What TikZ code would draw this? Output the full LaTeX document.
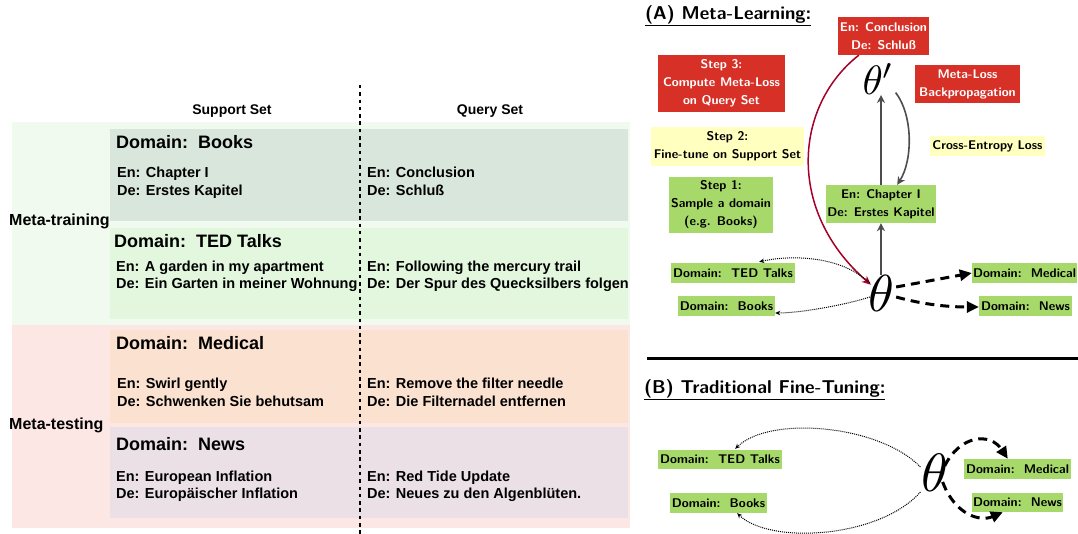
\documentclass[tikz,border=0pt]{standalone}
\usepackage{fontspec}
\usepackage{graphicx}
\usetikzlibrary{arrows.meta,calc}
\newfontfamily\hel{Liberation Sans}

% colour scheme
\definecolor{trainbg}{HTML}{F0FAEF}
\definecolor{testbg}{HTML}{FCE7E5}
\definecolor{booksbg}{HTML}{D9E6DB}
\definecolor{tedbg}{HTML}{E2F7DE}
\definecolor{medbg}{HTML}{FBE1CF}
\definecolor{newsbg}{HTML}{EAE0E5}
\definecolor{bgreen}{HTML}{A6D96A}
\definecolor{bred}{HTML}{D73027}
\definecolor{byellow}{HTML}{FFFFBF}
\definecolor{crimson}{HTML}{A50026}
\definecolor{darkgray}{HTML}{4D4D4D}

\tikzset{
  panel/.style={fill=#1, draw=none, anchor=north west, inner sep=0pt},
  rowlabel/.style={anchor=base west, inner sep=0pt, font=\hel\bfseries\fontsize{16}{18}\selectfont},
  colhead/.style={anchor=base, inner sep=0pt, font=\hel\bfseries\fontsize{14}{16}\selectfont},
  dhead/.style={anchor=base west, inner sep=0pt, font=\hel\bfseries\fontsize{18}{20}\selectfont},
  sent/.style={anchor=base west, inner sep=0pt, font=\hel\bfseries\fontsize{14.5}{17}\selectfont},
  tag/.style={fill=#1, inner sep=0pt, align=center, font=\sffamily\bfseries\fontsize{12.6}{18}\selectfont},
  redtag/.style={tag=bred, text=white},
  title/.style={anchor=base west, inner sep=0pt, font=\sffamily\bfseries\fontsize{18.6}{22}\selectfont},
  param/.style={inner sep=0pt},
  grayarrow/.style={draw=darkgray, line width=1.8pt, -{Stealth[length=8pt,width=8pt]}},
  thinlink/.style={densely dotted, line width=1pt, -{Stealth[length=5pt,width=4.5pt]}},
  thicklink/.style={dash pattern=on 9pt off 6pt, line width=3pt, -{Triangle[length=12pt,width=11pt]}},
}

\begin{document}
\begin{tikzpicture}[x=1pt,y=1pt]
\useasboundingbox (0,0) rectangle (1078,-534);

% ---------------- left: domains table ----------------
\node[panel=trainbg, minimum width=618, minimum height=203] (train) at (12,-122) {};
\node[panel=testbg,  minimum width=618, minimum height=203] (test)  at (12,-325) {};
\node[panel=booksbg, minimum width=518, minimum height=92] (books) at (110,-129) {};
\node[panel=tedbg,   minimum width=518, minimum height=91] (ted)   at (110,-228) {};
\node[panel=medbg,   minimum width=518, minimum height=93] (med)   at (110,-330) {};
\node[panel=newsbg,  minimum width=518, minimum height=91] (news)  at (110,-427) {};

\coordinate (divtop) at (360,-85);
\coordinate (divbot) at (360,-534);
\draw[line width=1.8pt, dash pattern=on 3.5pt off 3.8pt] (divtop) -- (divbot);

\node[colhead] (support) at (232,-115) {Support Set};
\node[colhead] (query)   at (490,-115) {Query Set};

\node[rowlabel] (mtrain) at (9,-225.5) {Meta-training};
\node[rowlabel] (mtest)  at (9,-429)   {Meta-testing};

% Books
\node[dhead] (bkh) at (116,-149) {Domain:\ \ Books};
\node[sent] (bks1) at (117,-178) {En: Chapter I};
\node[sent] (bks2) at (117,-196) {De: Erstes Kapitel};
\node[sent] (bkq1) at (367,-178) {En: Conclusion};
\node[sent] (bkq2) at (367,-196) {De: Schluß};
% TED Talks
\node[dhead] (tdh) at (114,-248) {Domain:\ \ TED Talks};
\node[sent] (tds1) at (116,-272) {En: A garden in my apartment};
\node[sent] (tds2) at (116,-289) {De: Ein Garten in meiner Wohnung};
\node[sent] (tdq1) at (367,-272) {En: Following the mercury trail};
\node[sent] (tdq2) at (367,-289) {De: Der Spur des Quecksilbers folgen};
% Medical
\node[dhead] (mdh) at (116,-349) {Domain:\ \ Medical};
\node[sent] (mds1) at (117,-388) {En: Swirl gently};
\node[sent] (mds2) at (117,-406) {De: Schwenken Sie behutsam};
\node[sent] (mdq1) at (367,-388) {En: Remove the filter needle};
\node[sent] (mdq2) at (367,-406) {De: Die Filternadel entfernen};
% News
\node[dhead] (nwh) at (116,-450) {Domain:\ \ News};
\node[sent] (nws1) at (116,-481) {En: European Inflation};
\node[sent] (nws2) at (116,-498) {De: Europäischer Inflation};
\node[sent] (nwq1) at (367,-481) {En: Red Tide Update};
\node[sent] (nwq2) at (367,-498) {De: Neues zu den Algenblüten.};

% ---------------- right (A): meta-learning ----------------
\node[title] (titleA) at (645,-19.5) {\underline{(A)\ Meta-Learning:}};

\node[redtag, minimum width=91, minimum height=38] (concl) at (883.5,-36) {En: Conclusion\\De: Schluß};
\node[redtag, minimum width=127, minimum height=57] (step3) at (721.5,-83.5) {Step 3:\\Compute Meta-Loss\\on Query Set};
\node[redtag, minimum width=105, minimum height=38] (backprop) at (967.5,-84) {Meta-Loss\\Backpropagation};
\node[tag=byellow, minimum width=153, minimum height=39] (step2) at (727.5,-146.5) {Step 2:\\Fine-tune on Support Set};
\node[tag=byellow, minimum width=115, minimum height=20] (celoss) at (987.5,-146) {Cross-Entropy Loss};
\node[tag=bgreen, minimum width=104, minimum height=56] (step1) at (721,-205) {Step 1:\\Sample a domain\\(e.g. Books)};
\node[tag=bgreen, minimum width=110, minimum height=38] (chap) at (881,-204) {En: Chapter I\\De: Erstes Kapitel};

\node[param] (thetap) at (878.5,-79) {\scalebox{4.1}{$\theta'$}};
\node[param] (theta)  at (881,-293) {\scalebox{5.2}{$\theta$}};

\node[tag=bgreen, minimum width=124, minimum height=20] (tedA)   at (733,-273)    {Domain:\ \ TED Talks};
\node[tag=bgreen, minimum width=97,  minimum height=20] (booksA) at (726.5,-306)  {Domain:\ \ Books};
\node[tag=bgreen, minimum width=105, minimum height=20] (medA)   at (1024.5,-273) {Domain:\ \ Medical};
\node[tag=bgreen, minimum width=93,  minimum height=20] (newsA)  at (1025.5,-306) {Domain:\ \ News};

% inner loop and outer loop
\coordinate (upend) at (881,-95);
\draw[grayarrow] (theta.north) -- (chap.south);
\draw[grayarrow] (chap.north) -- (upend);
\draw[grayarrow, line width=1.6pt] ($(thetap.south east)+(1,2)$) .. controls (913,-115) and (913,-160) .. ($(chap.north east)+(-39,0)$);
\draw[crimson, line width=1.5pt, -{Stealth[length=9pt,width=8pt]}]
  ($(concl.south west)+(21,0)$) .. controls (795,-105) and (785,-210) .. ($(theta.north west)+(3,-10)$);

% sampled training domains and held-out test domains
\draw[thinlink] ($(theta.west)+(2,10)$) .. controls (840,-255) and (790,-255) .. ($(tedA.north east)+(-36,1)$);
\draw[thinlink] ($(theta.west)+(2,-4)$) .. controls (845,-305) and (800,-313) .. ($(booksA.east)+(0,-7)$);
\draw[thicklink] ($(theta.east)+(2,6)$) -- (medA.west);
\draw[thicklink] ($(theta.east)+(2,-4)$) .. controls (925,-305) and (950,-307) .. ($(newsA.west)+(0,-1)$);

\coordinate (ruleL) at (647,-358);
\coordinate (ruleR) at (1078,-358);
\draw[line width=3pt] (ruleL) -- (ruleR);

% ---------------- right (B): traditional fine-tuning ----------------
\node[title] (titleB) at (644,-393) {\underline{(B)\ Traditional Fine-Tuning:}};

\node[tag=bgreen, minimum width=124, minimum height=19] (tedB)   at (720,-459.5)   {Domain:\ \ TED Talks};
\node[tag=bgreen, minimum width=97,  minimum height=20] (booksB) at (718.5,-503)   {Domain:\ \ Books};
\node[tag=bgreen, minimum width=107, minimum height=20] (medB)   at (1017.5,-469)  {Domain:\ \ Medical};
\node[tag=bgreen, minimum width=91,  minimum height=19] (newsB)  at (1017.5,-502.5) {Domain:\ \ News};

\node[param] (thetaB) at (935,-473) {\scalebox{5.4}{$\theta$}};

\draw[thinlink] ($(thetaB.west)+(-1,6)$) .. controls (880,-425) and (770,-415) .. ($(tedB.north east)+(-47,1)$);
\draw[thinlink] ($(thetaB.west)+(-1,-19)$) .. controls (880,-538) and (770,-545) .. ($(booksB.south east)+(-30,0)$);
\draw[thicklink] ($(thetaB.north east)+(-4,-12)$) .. controls (960,-435) and (990,-432) .. ($(medB.north west)+(44,0)$);
\draw[thicklink] ($(thetaB.south east)+(-6,10)$) .. controls (955,-515) and (980,-522) .. ($(newsB.south west)+(31,0)$);
\end{tikzpicture}
\end{document}
